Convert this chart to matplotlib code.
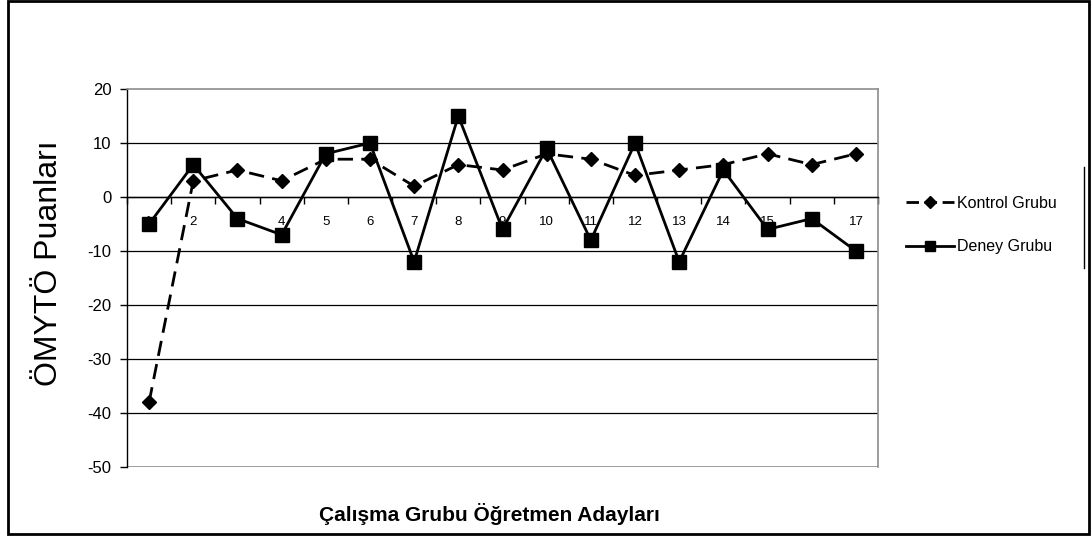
import matplotlib
matplotlib.use("Agg")
import matplotlib.pyplot as plt
from matplotlib.lines import Line2D
from matplotlib.patches import Rectangle
import matplotlib.ticker as ticker

plt.rcParams["font.family"] = ["Liberation Sans", "DejaVu Sans"]
plt.rcParams["axes.unicode_minus"] = False

# data
adaylar = list(range(1, 18))
kontrol = [-38, 3, 5, 3, 7, 7, 2, 6, 5, 8, 7, 4, 5, 6, 8, 6, 8]
deney = [-5, 6, -4, -7, 8, 10, -12, 15, -6, 9, -8, 10, -12, 5, -6, -4, -10]
y_ticks = [-50, -40, -30, -20, -10, 0, 10, 20]

W, H = 1092, 537
fig = plt.figure(figsize=(W / 100, H / 100), dpi=100, facecolor="white")
ax = fig.add_axes([127 / W, 1 - 467 / H, (878 - 127) / W, (467 - 89) / H])

ax.plot(adaylar, kontrol, color="black", lw=2.0, ls=(0, (5.5, 3.0)),
        marker="D", ms=7.2, zorder=4, label="Kontrol Grubu")
ax.plot(adaylar, deney, color="black", lw=2.0, ls="-",
        marker="s", ms=9.6, zorder=5, label="Deney Grubu")

ax.set_xlim(0.5, 17.5)
ax.set_ylim(-50, 20)
ax.set_yticks(y_ticks)
for v in y_ticks[1:-1]:
    ax.axhline(v, color="black", lw=0.9, zorder=1)
ax.axhline(y_ticks[0], color="#8c8c8c", lw=1.2, zorder=1)

# category axis crossing at 0, ticks between categories
ax.spines["bottom"].set_position(("data", 0))
ax.spines["bottom"].set_color("black")
ax.spines["bottom"].set_linewidth(1.0)
ax.spines["left"].set_color("black")
ax.spines["left"].set_linewidth(1.0)
ax.spines["top"].set_color("#8c8c8c")
ax.spines["right"].set_color("#8c8c8c")
ax.spines["top"].set_linewidth(1.2)
ax.spines["right"].set_linewidth(1.2)

ax.xaxis.set_major_locator(ticker.FixedLocator([i + 0.5 for i in range(0, 18)]))
ax.xaxis.set_major_formatter(ticker.NullFormatter())
ax.xaxis.set_minor_locator(ticker.FixedLocator(adaylar))
ax.xaxis.set_minor_formatter(ticker.FixedFormatter([str(a) for a in adaylar]))
ax.tick_params(axis="x", which="major", direction="out", length=5, width=1.0, color="black")
ax.tick_params(axis="x", which="minor", length=0, pad=14, labelsize=9.5)
ax.tick_params(axis="y", direction="out", length=5, width=1.0, pad=6, labelsize=12)
for lab in ax.get_xticklabels(minor=True):
    lab.set_zorder(0)

ax.set_ylabel("ÖMYTÖ Puanları", fontsize=23)
ax.yaxis.set_label_coords(-0.084, 0.54)
ax.set_xlabel("Çalışma Grubu Öğretmen Adayları", fontsize=15, fontweight="bold")
ax.xaxis.set_label_coords(0.483, -0.095)

# legend
handles = [
    Line2D([], [], color="black", lw=2.0, ls=(0, (4.5, 2.0)), marker="D", ms=6),
    Line2D([], [], color="black", lw=2.0, ls="-", marker="s", ms=6.5),
]
fig.legend(handles, ["Kontrol Grubu", "Deney Grubu"], loc="center left",
           bbox_to_anchor=(898 / W, 1 - 225 / H), frameon=False, fontsize=11.5,
           handlelength=3.0, handletextpad=0.2, labelspacing=1.8, borderpad=0)
fig.add_artist(Line2D([1084 / W, 1084 / W], [1 - 167 / H, 1 - 268 / H],
                      color="black", lw=1.0))

# outer chart border
fig.add_artist(Rectangle((8 / W, 1 - 534 / H), (1089 - 8) / W, (534 - 1) / H,
                         fill=False, edgecolor="black", lw=2.0))

fig.savefig("out.png", dpi=100, facecolor="white")
